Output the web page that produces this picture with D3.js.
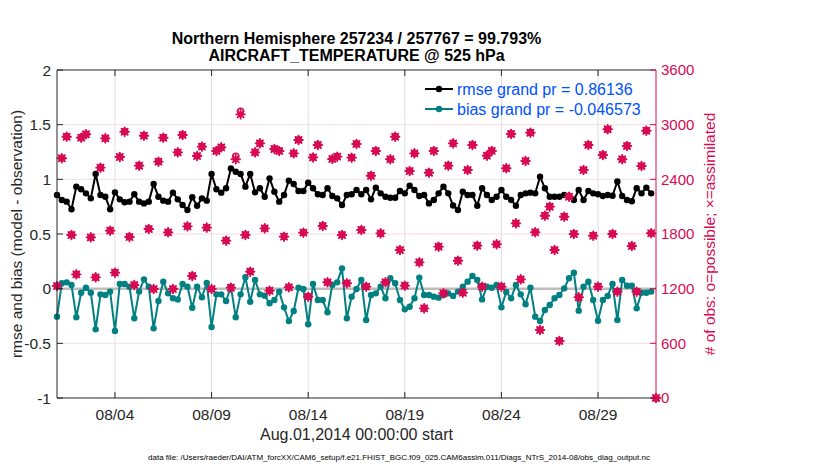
<!DOCTYPE html>
<html><head><meta charset="utf-8">
<script src="https://cdn.jsdelivr.net/npm/d3@7"></script>
<style>
body{margin:0;background:#fff}
svg{display:block;font-family:"Liberation Sans",Arial,Helvetica,sans-serif}
</style>
</head><body><svg id="c" width="830" height="470"></svg>
<script>
// ---------- text ----------
const titleLines = ["Northern Hemisphere 257234 / 257767 = 99.793%", "AIRCRAFT_TEMPERATURE @ 525 hPa"];
const xAxisLabel = "Aug.01,2014 00:00:00 start";
const leftLabel = "rmse and bias (model - observation)";
const rightLabel = "# of obs: o=possible; \u00d7=assimilated";
const fileNote = "data file: /Users/raeder/DAI/ATM_forcXX/CAM6_setup/f.e21.FHIST_BGC.f09_025.CAM6assim.011/Diags_NTrS_2014-08/obs_diag_output.nc";
const legendLabels = ["rmse grand pr = 0.86136", "bias grand pr = -0.046573"];

// ---------- axes ----------
const binStart = "2014-08-01T00:00:00Z";
const binHours = 6;
const xDomain = ["2014-08-01T00:00:00Z", "2014-09-01T00:00:00Z"];
const xTickDates = ["2014-08-04","2014-08-09","2014-08-14","2014-08-19","2014-08-24","2014-08-29"];
const leftTicks = [-1, -0.5, 0, 0.5, 1, 1.5, 2];
const rightTicks = [0, 600, 1200, 1800, 2400, 3000, 3600];

// ---------- data (6-hourly bins) ----------
const rmse = [
0.857,0.811,0.796,0.726,0.933,0.909,0.872,0.826,1.049,0.857,0.841,0.726,0.881,0.817,0.790,0.796,
0.863,0.796,0.780,0.796,0.957,0.841,0.805,0.796,0.878,0.817,0.765,0.720,0.836,0.759,0.826,0.805,
1.049,0.909,0.878,0.918,1.100,1.070,1.049,0.933,1.049,0.881,0.918,0.841,1.009,0.887,0.796,0.857,
0.988,0.957,0.893,0.893,0.969,0.918,0.863,0.857,0.918,0.847,0.826,0.765,0.857,0.863,0.902,0.863,
0.902,0.817,0.924,0.872,0.841,0.832,0.832,0.893,0.872,0.942,0.902,0.847,0.857,0.780,0.811,0.872,
0.933,0.872,0.760,0.720,0.887,0.857,0.857,0.759,0.918,0.857,0.811,0.841,0.902,0.841,0.811,0.759,
0.857,0.872,0.878,0.872,1.024,0.918,0.841,0.841,0.841,0.857,0.841,0.811,0.902,0.811,0.893,0.872,
0.863,0.847,0.857,0.850,0.980,0.847,0.811,0.800,0.918,0.872,0.924,0.872];
const bias = [
-0.256,0.049,0.058,0.034,-0.262,-0.037,0.009,-0.037,-0.372,-0.052,-0.058,-0.027,-0.387,0.043,0.043,0.018,
-0.271,-0.027,0.085,0.018,-0.363,-0.113,0.064,-0.043,-0.088,-0.098,0.043,0.018,-0.174,0.018,-0.079,0.052,
-0.350,-0.052,-0.052,-0.113,0.018,-0.262,-0.052,0.104,-0.119,0.079,-0.052,-0.064,-0.134,-0.104,-0.027,-0.171,
-0.296,-0.204,0.009,-0.003,-0.326,0.043,-0.104,-0.104,-0.216,0.034,0.058,0.186,-0.271,-0.073,-0.003,0.079,
-0.287,-0.058,-0.043,0.018,-0.088,0.095,0.049,-0.104,-0.189,-0.165,-0.088,0.101,-0.058,-0.058,-0.073,-0.082,
-0.058,-0.043,-0.067,-0.027,0.018,0.064,0.116,0.079,-0.098,0.018,0.009,0.034,-0.171,-0.030,-0.088,0.034,
-0.052,-0.143,0.009,-0.256,-0.296,-0.195,-0.149,-0.088,-0.058,0.003,0.095,0.146,-0.201,0.018,0.064,-0.104,
-0.293,-0.104,-0.067,0.043,-0.287,0.079,0.027,0.027,-0.180,-0.037,-0.037,-0.027];
const obsAssimilated = [
1229,2631,2868,1789,1357,2857,2894,1763,1324,2528,2850,1837,1376,2645,2923,1767,
1240,2550,2879,1855,1196,2594,2857,1818,1196,2696,2887,1884,1339,2656,2759,1870,
1196,2711,2751,1727,1211,2620,3113,1789,1387,2696,2795,1862,1178,2733,2711,1771,
1215,2685,2832,1815,1112,2641,2777,1888,1270,2623,2649,1789,1259,2638,2788,1844,
1222,2440,2711,1807,1270,2620,2868,1624,1233,2491,2685,1489,984,2473,2711,1661,
1149,2550,2795,1507,1156,2502,2777,1672,1222,2660,2712,1687,1222,2521,2898,1917,
1302,2601,2912,1819,746,2001,2100,1624,626,1990,2209,1800,1105,2502,2777,1781,
1222,2667,2949,1800,1167,2620,2766,1668,1167,2546,2934,1808,0];
const obsPossible = [
1230,2633,2870,1791,1358,2859,2896,1765,1326,2530,2852,1839,1378,2647,2925,1769,
1242,2552,2881,1857,1198,2596,2859,1820,1198,2698,2889,1886,1341,2658,2761,1872,
1198,2713,2753,1729,1213,2655,3148,1791,1389,2698,2797,1864,1180,2735,2713,1773,
1217,2687,2834,1817,1114,2643,2779,1890,1272,2625,2651,1791,1261,2640,2790,1846,
1224,2442,2713,1809,1272,2622,2870,1626,1235,2493,2687,1491,986,2475,2713,1663,
1151,2552,2797,1509,1158,2504,2779,1674,1224,2662,2714,1689,1224,2523,2900,1919,
1304,2603,2914,1821,748,2003,2102,1626,628,1992,2215,1802,1107,2504,2779,1783,
1224,2669,2951,1802,1169,2622,2768,1670,1169,2548,2936,1810,0];

// ---------- style ----------
const CRIMSON = "#d70a53", TEAL = "#008080", BLUE = "#0050ff", AXIS = "#262626";

const svg = d3.select("#c");
const L = 57, R = 656, T = 70, B = 398;

const t0 = new Date(binStart).getTime();
const timeAt = i => new Date(t0 + i * binHours * 3600e3);

const x = d3.scaleUtc().domain(xDomain.map(d => new Date(d))).range([L, R]);
const yL = d3.scaleLinear().domain([-1, 2]).range([B, T]);
const yR = d3.scaleLinear().domain([0, 3600]).range([B, T]);

// grid
const g = svg.append("g");
g.selectAll(".vg").data(xTickDates).join("line")
  .attr("x1", d => x(new Date(d + "T00:00:00Z"))).attr("x2", d => x(new Date(d + "T00:00:00Z")))
  .attr("y1", T).attr("y2", B).attr("stroke", "#dedede").attr("stroke-width", 1);
g.selectAll(".hg").data(rightTicks.slice(1, -1)).join("line")
  .attr("x1", L).attr("x2", R).attr("y1", d => yR(d)).attr("y2", d => yR(d))
  .attr("stroke", "#f9dae5").attr("stroke-width", 1);

// zero line
g.append("line").attr("x1", L).attr("x2", R).attr("y1", yL(0)).attr("y2", yL(0))
  .attr("stroke", "#bdbdbd").attr("stroke-width", 2.5);

// series lines
function drawSeries(vals, color) {
  const line = d3.line().defined(d => d != null).x((d, i) => x(timeAt(i))).y(d => yL(d));
  svg.append("path").datum(vals).attr("d", line).attr("fill", "none")
    .attr("stroke", color).attr("stroke-width", 2).attr("stroke-linejoin", "round");
  svg.append("g").selectAll("circle").data(vals.map((v, i) => [i, v]).filter(d => d[1] != null)).join("circle")
    .attr("cx", d => x(timeAt(d[0]))).attr("cy", d => yL(d[1])).attr("r", 3.2).attr("fill", color);
}
drawSeries(rmse, "#000");
drawSeries(bias, TEAL);

// obs count markers: o = possible, * = assimilated
const star = r => { const a = r * 0.7071; return `M${-r},0L${r},0M0,${-r}L0,${r}M${-a},${-a}L${a},${a}M${-a},${a}L${a},${-a}`; };
const og = svg.append("g");
og.selectAll(".oa").data(obsAssimilated).join("g")
  .attr("transform", (d, i) => `translate(${x(timeAt(i))},${yR(d)})`)
  .each(function () {
    const s = d3.select(this);
    s.append("path").attr("d", "M0,-3.6L3.6,0L0,3.6L-3.6,0Z").attr("fill", CRIMSON);
    s.append("path").attr("d", star(4.3)).attr("fill", "none").attr("stroke", CRIMSON)
      .attr("stroke-width", 1.9).attr("stroke-linecap", "round");
  });
og.selectAll(".op").data(obsPossible).join("circle")
  .attr("cx", (d, i) => x(timeAt(i))).attr("cy", d => yR(d)).attr("r", 2.9)
  .attr("fill", "none").attr("stroke", CRIMSON).attr("stroke-width", 1.6);

// axes box
svg.append("line").attr("x1", L).attr("x2", R).attr("y1", T).attr("y2", T).attr("stroke", AXIS);
svg.append("line").attr("x1", L).attr("x2", R).attr("y1", B).attr("y2", B).attr("stroke", AXIS);
svg.append("line").attr("x1", L).attr("x2", L).attr("y1", T).attr("y2", B).attr("stroke", AXIS);
svg.append("line").attr("x1", R).attr("x2", R).attr("y1", T).attr("y2", B).attr("stroke", CRIMSON);

// x ticks
const xt = svg.append("g").selectAll("g").data(xTickDates).join("g")
  .attr("transform", d => `translate(${x(new Date(d + "T00:00:00Z"))},0)`);
xt.append("line").attr("y1", B).attr("y2", B - 6).attr("stroke", AXIS);
xt.append("line").attr("y1", T).attr("y2", T + 6).attr("stroke", AXIS);
xt.append("text").attr("y", B + 22).attr("text-anchor", "middle").attr("font-size", 15.5).attr("fill", AXIS)
  .text(d => d3.utcFormat("%m/%d")(new Date(d + "T00:00:00Z")));

// left ticks
const lt = svg.append("g").selectAll("g").data(leftTicks).join("g")
  .attr("transform", d => `translate(0,${yL(d)})`);
lt.append("line").attr("x1", L).attr("x2", L + 6).attr("stroke", AXIS);
lt.append("text").attr("x", L - 6).attr("dy", "0.36em").attr("text-anchor", "end").attr("font-size", 15.5).attr("fill", AXIS)
  .text(d => String(d));

// right ticks
const rt = svg.append("g").selectAll("g").data(rightTicks).join("g")
  .attr("transform", d => `translate(0,${yR(d)})`);
rt.append("line").attr("x1", R).attr("x2", R - 6).attr("stroke", CRIMSON);
rt.append("text").attr("x", R + 5).attr("dy", "0.36em").attr("font-size", 15).attr("fill", CRIMSON).text(d => d);

// titles
svg.append("g").selectAll("text").data(titleLines).join("text")
  .attr("x", (L + R) / 2).attr("y", (d, i) => 44 + i * 17).attr("text-anchor", "middle")
  .attr("font-size", 16).attr("font-weight", "bold").attr("fill", "#000").text(d => d);

svg.append("text").attr("x", (L + R) / 2).attr("y", 440).attr("text-anchor", "middle")
  .attr("font-size", 16).attr("fill", AXIS).text(xAxisLabel);
svg.append("text").attr("x", 399).attr("y", 460).attr("text-anchor", "middle")
  .attr("font-size", 8).attr("fill", "#000").text(fileNote);

svg.append("text").attr("transform", `translate(22,${(T + B) / 2}) rotate(-90)`).attr("text-anchor", "middle")
  .attr("font-size", 15.5).attr("fill", AXIS).text(leftLabel);
svg.append("text").attr("transform", `translate(715,${(T + B) / 2}) rotate(-90)`).attr("text-anchor", "middle")
  .attr("font-size", 15.5).attr("fill", CRIMSON).text(rightLabel);

// legend
const lg = svg.append("g").selectAll("g").data(legendLabels).join("g")
  .attr("transform", (d, i) => `translate(0,${89 + i * 20})`);
const legendColors = ["#000", TEAL];
lg.append("line").attr("x1", 425).attr("x2", 453).attr("stroke", (d, i) => legendColors[i]).attr("stroke-width", 2);
lg.append("circle").attr("cx", 439).attr("r", 3.2).attr("fill", (d, i) => legendColors[i]);
lg.append("text").attr("x", 457).attr("dy", "0.36em").attr("font-size", 16).attr("fill", BLUE).text(d => d);
</script></body></html>
